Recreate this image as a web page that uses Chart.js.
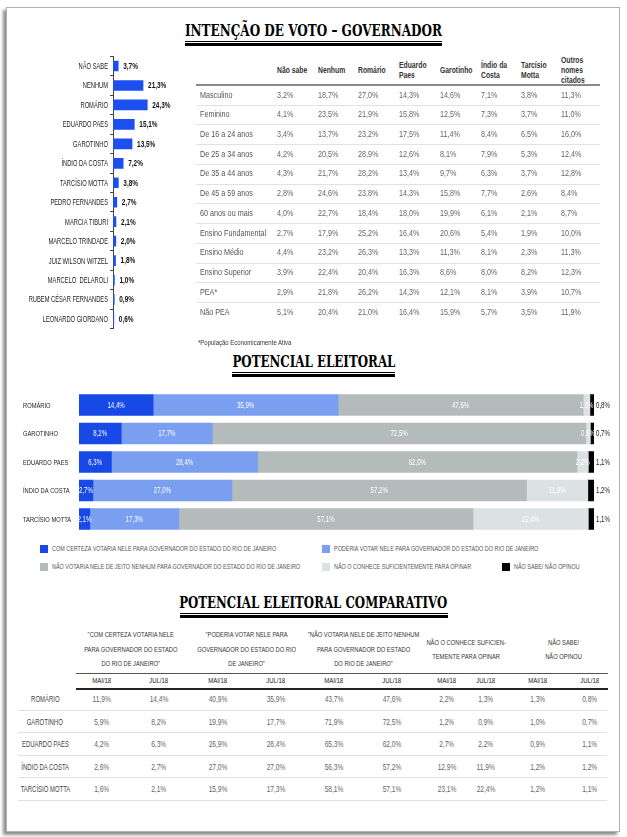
<!DOCTYPE html>
<html><head><meta charset="utf-8">
<script src="https://cdn.jsdelivr.net/npm/chart.js@4.4.1/dist/chart.umd.min.js"></script>
<style>
html,body{margin:0;padding:0;background:#fff;}
body{width:627px;height:837px;position:relative;overflow:hidden;font-family:"Liberation Sans",Arial,sans-serif;}
#card{position:absolute;left:6px;top:7px;width:612px;height:823px;border:1px solid #b0b0b0;box-shadow:-3px 3px 3px rgba(0,0,0,0.45);background:#fff;}
.title{position:absolute;left:0;width:627px;text-align:center;font-family:"DejaVu Serif","Liberation Serif",serif;font-weight:bold;font-size:17px;line-height:18px;color:#000;white-space:nowrap;}
.title span{display:inline-block;transform-origin:center;}
.nx{display:inline-block;white-space:nowrap;}
canvas{position:absolute;}
</style></head>
<body>
<div id="card"></div>
<canvas id="c1" width="200" height="290" style="left:0;top:50px;width:200px;height:290px;"></canvas>
<canvas id="c2" width="627" height="155" style="left:0;top:385px;width:627px;height:155px;"></canvas>
<script>
// ---------------- DATA ----------------
const candLabels = ['NÃO SABE','NENHUM','ROMÁRIO','EDUARDO PAES','GAROTINHO','ÍNDIO DA COSTA','TARCÍSIO MOTTA','PEDRO FERNANDES','MARCIA TIBURI','MARCELO TRINDADE','JUIZ WILSON WITZEL','MARCELO  DELAROLI','RUBEM CÉSAR FERNANDES','LEONARDO GIORDANO'];
const candValues = [3.7,21.3,24.3,15.1,13.5,7.2,3.8,2.7,2.1,2.0,1.8,1.0,0.9,0.6];

const segHeaders = [['Não sabe'],['Nenhum'],['Romário'],['Eduardo','Paes'],['Garotinho'],['Índio da','Costa'],['Tarcísio','Motta'],['Outros','nomes','citados']];
const segRows = ['Masculino','Feminino','De 16 a 24 anos','De 25 a 34 anos','De 35 a 44 anos','De 45 a 59 anos','60 anos ou mais','Ensino Fundamental','Ensino Médio','Ensino Superior','PEA*','Não PEA'];
const segValues = [
  [3.2,18.7,27.0,14.3,14.6,7.1,3.8,11.3],
  [4.1,23.5,21.9,15.8,12.5,7.3,3.7,11.0],
  [3.4,13.7,23.2,17.5,11.4,8.4,6.5,16.0],
  [4.2,20.5,28.9,12.6,8.1,7.9,5.3,12.4],
  [4.3,21.7,28.2,13.4,9.7,6.3,3.7,12.8],
  [2.8,24.6,23.8,14.3,15.8,7.7,2.6,8.4],
  [4.0,22.7,18.4,18.0,19.9,6.1,2.1,8.7],
  [2.7,17.9,25.2,16.4,20.6,5.4,1.9,10.0],
  [4.4,23.2,26.3,13.3,11.3,8.1,2.3,11.3],
  [3.9,22.4,20.4,16.3,8.6,8.0,8.2,12.3],
  [2.9,21.8,26.2,14.3,12.1,8.1,3.9,10.7],
  [5.1,20.4,21.0,16.4,15.9,5.7,3.5,11.9]
];
const footnote = '*População Economicamente Ativa';

const potCands = ['ROMÁRIO','GAROTINHO','EDUARDO PAES','ÍNDIO DA COSTA','TARCÍSIO MOTTA'];
const potSeriesNames = ['COM CERTEZA VOTARIA NELE PARA GOVERNADOR DO ESTADO DO RIO DE JANEIRO','PODERIA VOTAR NELE PARA GOVERNADOR DO ESTADO DO RIO DE JANEIRO','NÃO VOTARIA NELE DE JEITO NENHUM PARA GOVERNADOR DO ESTADO DO RIO DE JANEIRO','NÃO O CONHECE SUFICIENTEMENTE PARA OPINAR','NÃO SABE/ NÃO OPINOU'];
const certezaJul = [14.4,8.2,6.3,2.7,2.1];
const poderiaJul = [35.9,17.7,28.4,27.0,17.3];
const naoVotariaJul = [47.6,72.5,62.0,57.2,57.1];
const naoConheceJul = [1.3,0.9,2.2,11.9,22.4];
const naoSabeJul = [0.8,0.7,1.1,1.2,1.1];

const certezaMai = [11.9,5.9,4.2,2.6,1.6];
const poderiaMai = [40.9,19.9,26.9,27.0,15.9];
const naoVotariaMai = [43.7,71.9,65.3,56.3,58.1];
const naoConheceMai = [2.2,1.2,2.7,12.9,23.1];
const naoSabeMai = [1.3,1.0,0.9,1.2,1.2];

const compGroups = [
  ['"COM CERTEZA VOTARIA NELE','PARA GOVERNADOR DO ESTADO','DO RIO DE JANEIRO"'],
  ['"PODERIA VOTAR NELE PARA','GOVERNADOR DO ESTADO DO RIO','DE JANEIRO"'],
  ['"NÃO VOTARIA NELE DE JEITO NENHUM','PARA GOVERNADOR DO ESTADO','DO RIO DE JANEIRO"'],
  ['NÃO O CONHECE SUFICIEN-','TEMENTE PARA OPINAR'],
  ['NÃO SABE/','NÃO OPINOU']
];
const periods = ['MAI/18','JUL/18'];

// ---------------- STYLE ----------------
const FONT = '"Liberation Sans",Arial,sans-serif';
const SX = 0.8; // horizontal condensing
const BAR_BLUE = '#1b4ff0';
const potColors = ['#1749e6','#7b9ff0','#b3bcbb','#dce1e2','#000000'];
function fmt(v){ return v.toFixed(1).replace('.',',') + '%'; }
function el(tag, css, text){ const e=document.createElement(tag); e.style.cssText=css; if(text!==undefined) e.textContent=text; document.body.appendChild(e); return e; }
function ctext(css, html, align, sx){
  const d = el('div','position:absolute;white-space:nowrap;'+css);
  const s = document.createElement('span'); s.className='nx'; s.innerHTML=html;
  s.style.transform='scaleX('+(sx||SX)+')'; s.style.transformOrigin = (align==='center'?'center':'left')+' center';
  d.appendChild(s); return d;
}
function esc(t){ return t.replace(/&/g,'&amp;').replace(/</g,'&lt;'); }
function ctxText(ctx, text, x, y, align, sx){
  ctx.save(); ctx.translate(x,y); ctx.scale(sx||SX,1); ctx.textAlign=align; ctx.fillText(text,0,0); ctx.restore();
}

// ---------------- TITLES ----------------
function makeTitle(text, capTop, width){
  const d = document.createElement('div'); d.className='title'; d.style.top=(capTop-3.2)+'px';
  const s = document.createElement('span'); s.textContent=text; d.appendChild(s); document.body.appendChild(d);
  const w = s.getBoundingClientRect().width;
  s.style.transform='scaleX('+(width/w)+')';
  const base = capTop + 12.5;
  const left = 313.5 - width/2;
  el('div','position:absolute;background:#000;left:'+left+'px;top:'+(base+4)+'px;width:'+width+'px;height:1px;');
  el('div','position:absolute;background:#000;left:'+left+'px;top:'+(base+6)+'px;width:'+width+'px;height:3px;');
}
makeTitle('INTENÇÃO DE VOTO – GOVERNADOR', 24, 257);
makeTitle('POTENCIAL ELEITORAL', 355.5, 163);
makeTitle('POTENCIAL ELEITORAL COMPARATIVO', 596.5, 268);

// ---------------- CHART 1 ----------------
const chart1Labels = {
  id:'chart1Labels',
  afterDraw(chart){
    const ctx=chart.ctx, ys=chart.scales.y, meta=chart.getDatasetMeta(0), data=chart.data.datasets[0].data;
    ctx.save(); ctx.textBaseline='middle';
    ctx.font='9px '+FONT; ctx.fillStyle='#222';
    chart.data.labels.forEach((l,i)=>ctxText(ctx, l, ys.right-5, ys.getPixelForTick(i)+0.5, 'right', 0.64));
    ctx.font='bold 8.5px '+FONT; ctx.fillStyle='#111';
    meta.data.forEach((b,i)=>ctxText(ctx, fmt(data[i]), b.x+5, b.y+0.5, 'left', 0.76));
    ctx.restore();
  }
};
new Chart(document.getElementById('c1'),{
  type:'bar',
  data:{labels:candLabels, datasets:[{data:candValues, backgroundColor:BAR_BLUE, barThickness:10, borderWidth:0}]},
  options:{
    indexAxis:'y', responsive:false, animation:false, devicePixelRatio:1,
    layout:{padding:{top:6.3,bottom:11.3,left:0,right:16.5}},
    plugins:{legend:{display:false},tooltip:{enabled:false}},
    scales:{
      x:{display:false,min:0,max:50},
      y:{
        afterFit(s){ s.width=113; },
        grid:{display:true,drawOnChartArea:false,offset:true,tickLength:3,color:'#444',lineWidth:1},
        border:{display:true,color:'#444',width:1},
        ticks:{display:false,autoSkip:false}
      }
    }
  },
  plugins:[chart1Labels]
});

// ---------------- TABLE 1 ----------------
const colX = [200,277,318,358,399,440,481,521,561];
const T1L = 196, T1W = 404, T1TOP = 55, ROWH = 19.73;
segHeaders.forEach((lines,i)=>{
  ctext('left:'+colX[i+1]+'px;top:'+T1TOP+'px;height:29px;display:flex;flex-direction:column;justify-content:center;font-weight:bold;font-size:8.5px;line-height:10px;color:#333;', lines.map(esc).join('<br>'), 'left');
});
el('div','position:absolute;left:'+T1L+'px;top:84px;width:'+T1W+'px;height:2px;background:#8a8a8a;');
segRows.forEach((r,i)=>{
  const top = 85.5 + i*ROWH;
  if(i < segRows.length-1) el('div','position:absolute;left:'+T1L+'px;top:'+(top+ROWH-0.5)+'px;width:'+T1W+'px;height:1px;background:#e2e2e2;');
  ctext('left:'+colX[0]+'px;top:'+top+'px;height:'+ROWH+'px;line-height:'+ROWH+'px;font-size:9px;color:#555;', esc(r), 'left');
  segValues[i].forEach((v,j)=>{
    ctext('left:'+colX[j+1]+'px;top:'+top+'px;height:'+ROWH+'px;line-height:'+ROWH+'px;font-size:9px;color:#666;', fmt(v), 'left');
  });
});
ctext('left:198px;top:338px;font-size:7.5px;line-height:10px;color:#333;', esc(footnote), 'left');

// ---------------- CHART 2 ----------------
const potData = [certezaJul, poderiaJul, naoVotariaJul, naoConheceJul, naoSabeJul];
const stackLabelPlugin = {
  id:'stackLabels',
  afterDraw(chart){
    const ctx=chart.ctx, ys=chart.scales.y; ctx.save(); ctx.textBaseline='middle';
    ctx.font='8px '+FONT; ctx.fillStyle='#222';
    chart.data.labels.forEach((l,i)=>ctxText(ctx, l, 23, ys.getPixelForTick(i)+0.5, 'left', 0.72));
    chart.data.datasets.forEach((ds,d)=>{
      const meta=chart.getDatasetMeta(d);
      meta.data.forEach((b,i)=>{
        const v=ds.data[i];
        ctx.font='8.5px '+FONT;
        if(d===4){ ctx.fillStyle='#222'; ctxText(ctx, fmt(v), b.x+2, b.y+0.5, 'left', 0.72); }
        else { ctx.fillStyle='#ffffff'; ctxText(ctx, fmt(v), (b.x+b.base)/2, b.y+0.5, 'center', 0.72); }
      });
    });
    ctx.restore();
  }
};
new Chart(document.getElementById('c2'),{
  type:'bar',
  data:{labels:potCands, datasets:potData.map((arr,k)=>({label:potSeriesNames[k], data:arr, backgroundColor:potColors[k], barThickness:21, borderWidth:0}))},
  options:{
    indexAxis:'y', responsive:false, animation:false, devicePixelRatio:1,
    layout:{padding:{top:5.7,bottom:6.7,left:23,right:33}},
    plugins:{legend:{display:false},tooltip:{enabled:false}},
    scales:{
      x:{display:false,stacked:true,min:0,max:100},
      y:{stacked:true, afterFit(s){ s.width=56; }, grid:{display:false}, border:{display:false},
         ticks:{display:false,autoSkip:false}}
    }
  },
  plugins:[stackLabelPlugin]
});

// legend
const legendPos = [[40,549],[322,549],[40,567],[322,567],[502,567]];
potSeriesNames.forEach((name,k)=>{
  const [x,y]=legendPos[k];
  el('div','position:absolute;left:'+x+'px;top:'+(y-4)+'px;width:8px;height:8px;background:'+potColors[k]+';');
  ctext('left:'+(x+12)+'px;top:'+(y-5)+'px;font-size:8px;line-height:10px;color:#555;', esc(name), 'left', 0.68);
});

// ---------------- TABLE 2 ----------------
const groupCenters = [131,247,363,466,564];
const subCenters = [102,159,218,276,334,392,447,486,538,590];
compGroups.forEach((lines,g)=>{
  ctext('left:'+(groupCenters[g]-70)+'px;width:140px;top:628px;height:44px;display:flex;flex-direction:column;justify-content:center;align-items:center;text-align:center;font-size:8px;line-height:14.5px;color:#333;', lines.map(esc).join('<br>'), 'center', 0.72);
});
el('div','position:absolute;left:76px;top:673px;width:532px;height:1px;background:#555;');
subCenters.forEach((cx,i)=>{
  ctext('left:'+(cx-30)+'px;width:60px;top:675px;height:12px;line-height:12px;text-align:center;font-size:8px;color:#222;', periods[i%2], 'center', 0.75);
});
el('div','position:absolute;left:76px;top:688px;width:532px;height:2px;background:#222;');
const compSeries = [certezaMai,certezaJul,poderiaMai,poderiaJul,naoVotariaMai,naoVotariaJul,naoConheceMai,naoConheceJul,naoSabeMai,naoSabeJul];
const CROWH = 22.5;
potCands.forEach((c,i)=>{
  const top = 688 + i*CROWH;
  el('div','position:absolute;left:18px;top:'+(top+CROWH-1)+'px;width:589px;height:1px;background:#e0e0e0;');
  ctext('left:5px;width:80px;top:'+top+'px;height:'+CROWH+'px;line-height:'+CROWH+'px;text-align:center;font-size:8.5px;color:#444;', esc(c), 'center', 0.7);
  compSeries.forEach((arr,j)=>{
    ctext('left:'+(subCenters[j]-30)+'px;width:60px;top:'+top+'px;height:'+CROWH+'px;line-height:'+CROWH+'px;text-align:center;font-size:8.5px;color:#666;', fmt(arr[i]), 'center', 0.78);
  });
});
</script>
</body></html>
